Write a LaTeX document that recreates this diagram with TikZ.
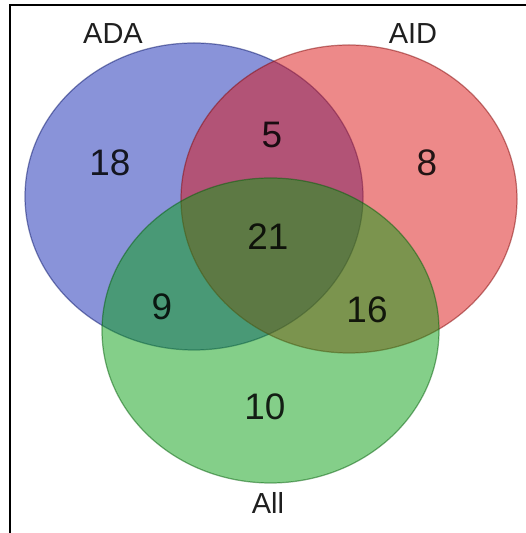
\documentclass[tikz,border=0pt]{standalone}
\usepackage{fontspec}
\setmainfont{Liberation Sans}

\definecolor{adacol}{RGB}{20,40,180}
\definecolor{aidcol}{RGB}{220,20,20}
\definecolor{allcol}{RGB}{10,160,20}

\begin{document}
\begin{tikzpicture}[x=0.02cm,y=0.02cm,
  setfill/.style={fill=#1, fill opacity=0.5, draw=#1!60!black, draw opacity=0.5, line width=0.7pt},
  setname/.style={font=\fontsize{16.5}{18}\selectfont, text=black!88},
  count/.style={font=\fontsize{21}{24}\selectfont, text=black, text opacity=0.85}]

\useasboundingbox (0,0) rectangle (526,533);

\coordinate (ada) at (194,336.5);
\coordinate (aid) at (349,334);
\coordinate (all) at (270.5,202.5);

\draw[setfill=adacol] (ada) ellipse [x radius=169, y radius=153.5];
\draw[setfill=aidcol] (aid) ellipse [x radius=168, y radius=154];
\draw[setfill=allcol] (all) ellipse [x radius=168.5, y radius=152.5];

% set names
\node[setname] (adaname) at (113,499) {ADA};
\node[setname] (aidname) at (413,499) {AID};
\node[setname] (allname) at (268,30) {All};

% region counts
\node[count] (onlyada) at (110,370) {18};
\node[count] (adaaid) at (272,398) {5};
\node[count] (onlyaid) at (427,370) {8};
\node[count] (center) at (268,296) {21};
\node[count] (adaall) at (162,226) {9};
\node[count] (aidall) at (367,223) {16};
\node[count] (onlyall) at (265,126) {10};

% frame
\draw[line width=1pt] (10,0) -- (10,528) -- (526,528);

\end{tikzpicture}
\end{document}
